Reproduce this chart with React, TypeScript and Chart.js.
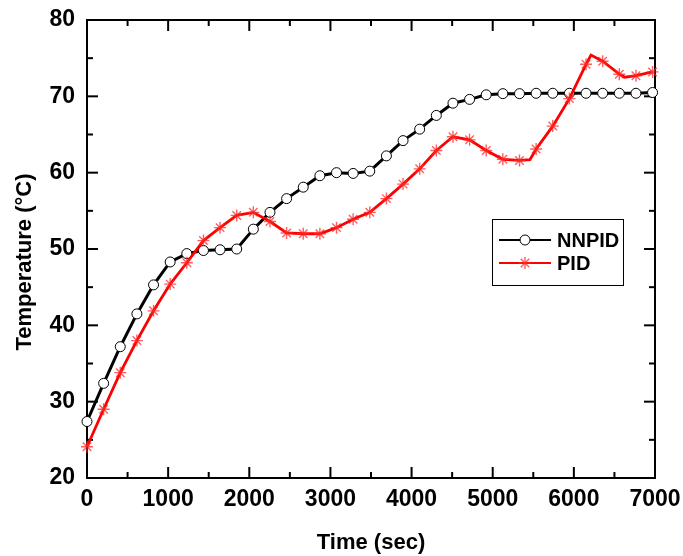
import React, { useEffect, useRef } from 'react';
import { Chart, registerables } from 'chart.js';

Chart.register(...registerables);

// ---- data ----
const times = [0, 205, 410, 615, 820, 1025, 1230, 1435, 1640, 1845, 2050, 2255, 2460, 2665, 2870, 3075, 3280, 3485, 3690, 3895, 4100, 4305, 4510, 4715, 4920, 5125, 5330, 5535, 5740, 5945, 6150, 6355, 6560, 6765, 6970];
const nnpidValues = [27.4, 32.4, 37.2, 41.5, 45.3, 48.3, 49.4, 49.8, 49.9, 50.0, 52.6, 54.8, 56.6, 58.1, 59.6, 60.0, 59.9, 60.2, 62.2, 64.2, 65.7, 67.5, 69.1, 69.6, 70.2, 70.35, 70.35, 70.4, 70.4, 70.4, 70.4, 70.4, 70.4, 70.4, 70.5];
const pidValues = [24.1, 29.0, 33.8, 38.0, 41.9, 45.4, 48.2, 51.1, 52.8, 54.4, 54.8, 53.6, 52.1, 52.0, 52.0, 52.8, 53.9, 54.8, 56.6, 58.5, 60.5, 62.9, 64.7, 64.3, 62.9, 61.75, 61.6, 63.1, 66.1, 69.7, 74.2, 74.6, 72.9, 72.7, 73.2];
// extra points of the PID curve between markers (kinks / peak without marker)
const pidExtraTimes = [5459, 6211, 6628];
const pidExtraValues = [61.7, 75.4, 72.5];

const seriesNames = ['NNPID', 'PID'];
const xTitle = 'Time (sec)';
const yTitle = 'Temperature (°C)';
const xMin = 0, xMax = 7000, xMajor = 1000, xMinor = 500;
const yMin = 20, yMax = 80, yMajor = 10, yMinor = 5;

const FONT = "'Liberation Sans', Arial, Helvetica, sans-serif";
const STAR_COLOR = 'rgba(255,40,40,0.75)';

const framePlugin = {
  id: 'frameTicks',
  beforeDatasetsDraw(chart: any) {
    const { ctx, chartArea, scales } = chart;
    const { left, right, top, bottom } = chartArea;
    const xs = scales.x, ys = scales.y;
    ctx.save();
    ctx.strokeStyle = '#000';
    ctx.lineWidth = 2;
    ctx.strokeRect(left, top, right - left, bottom - top);
    const seg = (x1: number, y1: number, x2: number, y2: number) => {
      ctx.beginPath(); ctx.moveTo(x1, y1); ctx.lineTo(x2, y2); ctx.stroke();
    };
    for (let v = xMin; v <= xMax; v += xMinor) {
      const px = xs.getPixelForValue(v);
      const len = v % xMajor === 0 ? 11 : 6;
      seg(px, bottom, px, bottom - len);
      seg(px, top, px, top + len);
    }
    for (let v = yMin; v <= yMax; v += yMinor) {
      const py = ys.getPixelForValue(v);
      const len = v % yMajor === 0 ? 11 : 6;
      seg(left, py, left + len, py);
      seg(right, py, right - len, py);
    }
    // y axis title
    ctx.fillStyle = '#000';
    ctx.font = `bold 22px ${FONT}`;
    ctx.textAlign = 'center';
    ctx.textBaseline = 'middle';
    ctx.translate(25, 262);
    ctx.rotate(-Math.PI / 2);
    ctx.fillText(yTitle, 0, 0);
    ctx.restore();
  },
};

const legendPlugin = {
  id: 'customLegend',
  afterDraw(chart: any) {
    const { ctx } = chart;
    ctx.save();
    const bx = 492, by = 219, bw = 131, bh = 66;
    ctx.fillStyle = '#fff';
    ctx.fillRect(bx, by, bw, bh);
    ctx.strokeStyle = '#000';
    ctx.lineWidth = 1;
    ctx.strokeRect(bx + 0.5, by + 0.5, bw, bh);
    const rows = [240, 263];
    // NNPID
    ctx.lineWidth = 2;
    ctx.strokeStyle = '#000';
    ctx.beginPath(); ctx.moveTo(499, rows[0]); ctx.lineTo(551, rows[0]); ctx.stroke();
    ctx.beginPath(); ctx.arc(525, rows[0], 5, 0, Math.PI * 2);
    ctx.fillStyle = '#fff'; ctx.fill(); ctx.lineWidth = 1; ctx.stroke();
    // PID
    ctx.lineWidth = 2;
    ctx.strokeStyle = '#ff0000';
    ctx.beginPath(); ctx.moveTo(499, rows[1]); ctx.lineTo(551, rows[1]); ctx.stroke();
    ctx.lineWidth = 1.4;
    ctx.strokeStyle = STAR_COLOR;
    for (let k = 0; k < 4; k++) {
      const a = (k * Math.PI) / 4;
      const dx = Math.cos(a) * 6, dy = Math.sin(a) * 6;
      ctx.beginPath(); ctx.moveTo(525 - dx, rows[1] - dy); ctx.lineTo(525 + dx, rows[1] + dy); ctx.stroke();
    }
    ctx.fillStyle = '#000';
    ctx.font = `bold 20px ${FONT}`;
    ctx.textBaseline = 'middle';
    ctx.textAlign = 'left';
    ctx.fillText(seriesNames[0], 557, rows[0] + 1);
    ctx.fillText(seriesNames[1], 557, rows[1] + 1);
    ctx.restore();
  },
};

export default function App() {
  const ref = useRef<HTMLCanvasElement | null>(null);
  useEffect(() => {
    if (!ref.current) return;
    const nnpidData = times.map((t, i) => ({ x: t, y: nnpidValues[i] }));
    const pidMarkers = times.map((t, i) => ({ x: t, y: pidValues[i] }));
    const pidLine = pidMarkers
      .concat(pidExtraTimes.map((t, i) => ({ x: t, y: pidExtraValues[i] })))
      .sort((a, b) => a.x - b.x);
    const tickFont = { family: FONT, size: 23, weight: 'bold' as const };
    const titleFont = { family: FONT, size: 22, weight: 'bold' as const };
    const chart = new Chart(ref.current, {
      type: 'line',
      data: {
        datasets: [
          {
            label: seriesNames[1] + ' markers',
            data: pidMarkers,
            showLine: false,
            pointStyle: 'star',
            pointRadius: 6,
            pointBorderColor: STAR_COLOR,
            pointBackgroundColor: STAR_COLOR,
            pointBorderWidth: 1.4,
            clip: false,
          } as any,
          {
            label: seriesNames[1],
            data: pidLine,
            borderColor: '#ff0000',
            borderWidth: 2.8,
            pointRadius: 0,
            tension: 0,
            fill: false,
            clip: false,
          } as any,
          {
            label: seriesNames[0],
            data: nnpidData,
            borderColor: '#000000',
            borderWidth: 3,
            pointStyle: 'circle',
            pointRadius: 5,
            pointBackgroundColor: '#ffffff',
            pointBorderColor: '#000000',
            pointBorderWidth: 1,
            tension: 0,
            fill: false,
            clip: false,
          } as any,
        ],
      },
      options: {
        animation: false,
        responsive: false,
        maintainAspectRatio: false,
        events: [],
        layout: { padding: { left: 0, right: 28, top: 20, bottom: 0 } },
        plugins: { legend: { display: false }, tooltip: { enabled: false } },
        scales: {
          x: {
            type: 'linear',
            min: xMin,
            max: xMax,
            ticks: {
              stepSize: xMajor,
              padding: 8,
              color: '#000',
              font: tickFont,
              maxRotation: 0,
              autoSkip: false,
              callback: (v: any) => String(v),
            },
            grid: { display: false, drawTicks: false },
            border: { display: false },
            title: { display: true, text: xTitle, color: '#000', font: titleFont, padding: { top: 0, bottom: 0 } },
            afterFit: (s: any) => { s.height = 78; s.paddingLeft = 0; s.paddingRight = 0; },
          },
          y: {
            type: 'linear',
            min: yMin,
            max: yMax,
            ticks: {
              stepSize: yMajor,
              padding: 12,
              color: '#000',
              font: tickFont,
              callback: (v: any) => String(v),
            },
            grid: { display: false, drawTicks: false },
            border: { display: false },
            title: { display: false },
            afterFit: (s: any) => { s.width = 87; s.paddingTop = 0; s.paddingBottom = 0; },
          },
        },
      } as any,
      plugins: [framePlugin, legendPlugin],
    });
    return () => chart.destroy();
  }, []);
  return (
    <div style={{ position: 'absolute', left: 0, top: 0, width: 683, height: 556, background: '#fff' }}>
      <canvas ref={ref} width={683} height={556} style={{ display: 'block' }} />
    </div>
  );
}
